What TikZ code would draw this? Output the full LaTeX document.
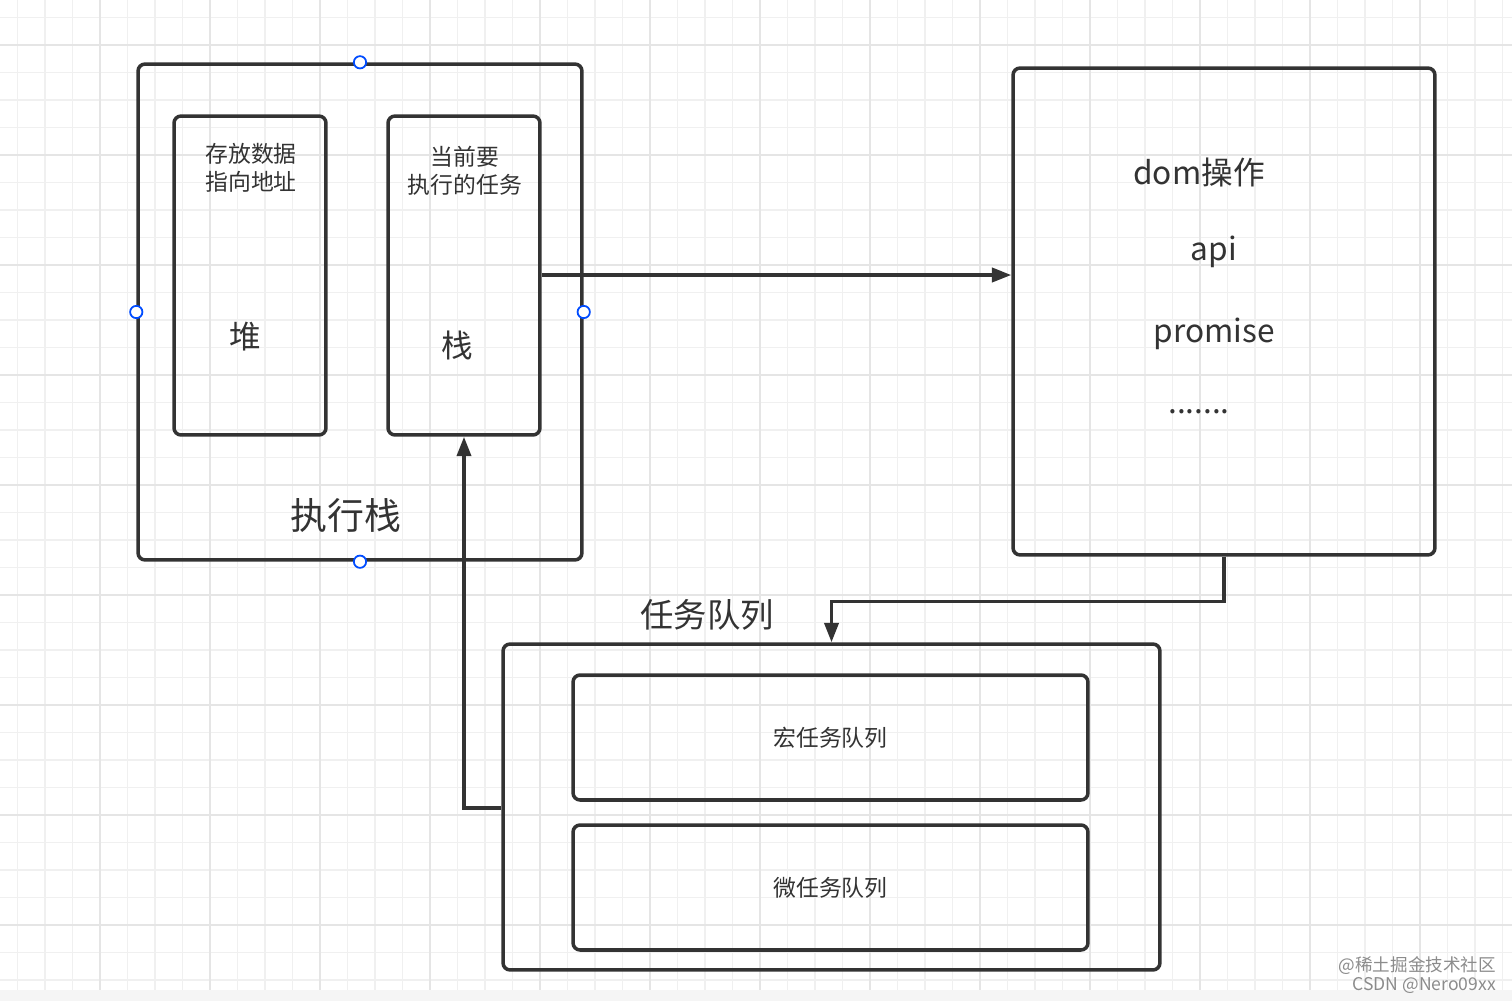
\documentclass[tikz,border=0pt]{standalone}
\usepackage{fontspec}
\setmainfont{Noto Sans CJK SC}
\usetikzlibrary{arrows.meta}
\begin{document}
\begin{tikzpicture}[x=0.02cm,y=-0.02cm,
  box/.style={draw=black!80,line width=2pt,rounded corners=4pt,inner sep=0pt},
  arr/.style={draw=black!80,line width=2pt,-{Triangle[length=11pt,width=8pt]}},
  handle/.style={circle,draw=blue!70!cyan,fill=white,line width=1pt,minimum size=7pt,inner sep=0pt},
  t/.style={text=black!80}]
\useasboundingbox (0,0) rectangle (1512,1001);
\fill[white] (0,0) rectangle (1512,1001);
\foreach \x in {17.5,45,...,1512} \draw[black!6,line width=0.6pt] (\x,0) -- (\x,1001);
\foreach \y in {17.5,45,...,1001} \draw[black!6,line width=0.6pt] (0,\y) -- (1512,\y);
\foreach \x in {100,210,...,1512} \draw[black!10,line width=1pt] (\x,0) -- (\x,1001);
\foreach \y in {45,155,...,1001} \draw[black!10,line width=1pt] (0,\y) -- (1512,\y);
\fill[black!4] (0,990) rectangle (1512,1001);

\node[box,minimum width=8.88cm,minimum height=9.92cm] (exec) at (360,312) {};
\node[box,minimum width=3.04cm,minimum height=6.38cm] (heap) at (250,275.5) {};
\node[box,minimum width=3.04cm,minimum height=6.38cm] (stack) at (464,275.5) {};
\node[t,font=\fontsize{13}{16}\selectfont,align=center] (l1) at (251,168) {存放数据\\指向地址};
\node[t,font=\fontsize{18}{20}\selectfont] (l2) at (245,337) {堆};
\node[t,font=\fontsize{13}{16}\selectfont,align=center] (l3) at (465,171) {当前要\\执行的任务};
\node[t,font=\fontsize{18}{20}\selectfont] (l4) at (457,345) {栈};
\node[t,font=\fontsize{21}{24}\selectfont] (l5) at (346,516) {执行栈};

\node[box,minimum width=8.44cm,minimum height=9.74cm] (web) at (1224,311.5) {};
\node[t,font=\fontsize{18}{22}\selectfont] (w1) at (1199,172) {dom操作};
\node[t,font=\fontsize{18}{22}\selectfont] (w2) at (1214,252) {api};
\node[t,font=\fontsize{18}{22}\selectfont] (w3) at (1214,334) {promise};
\node[t,font=\fontsize{18}{22}\selectfont] (w4) at (1199,412) {.......};

\node[t,font=\fontsize{19}{22}\selectfont] (ql) at (707,615) {任务队列};
\node[box,minimum width=13.14cm,minimum height=6.52cm] (queue) at (831.5,807) {};
\node[box,minimum width=10.3cm,minimum height=2.5cm] (macro) at (830.5,737.5) {};
\node[t,font=\fontsize{13}{16}\selectfont] at (macro) {宏任务队列};
\node[box,minimum width=10.3cm,minimum height=2.5cm] (micro) at (830.5,887.5) {};
\node[t,font=\fontsize{13}{16}\selectfont] at (micro) {微任务队列};

\draw[arr] (stack.east |- 0,275) -- (web.west |- 0,275);
\draw[arr] (web.south) -- ++(0,45) -| (queue.north);
\draw[arr] (queue.west |- 0,808) -| (stack.south);

\foreach \a in {north,west,east,south} \node[handle] at (exec.\a) {};

\node[text=black!45,font=\fontsize{10}{11}\selectfont,align=right,anchor=south east,inner sep=1pt] (wm) at (1498,996) {@稀土掘金技术社区\\CSDN @Nero09xx};
\end{tikzpicture}
\end{document}
